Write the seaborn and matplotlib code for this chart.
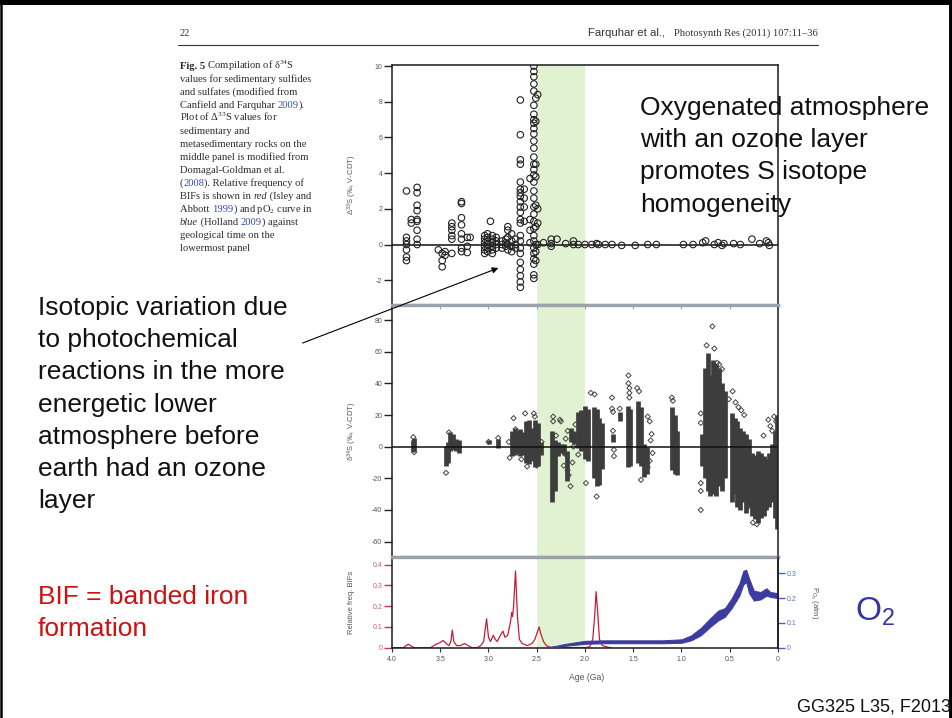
import numpy as np
import matplotlib
matplotlib.use("Agg")
import matplotlib.pyplot as plt
import seaborn as sns
from matplotlib.lines import Line2D
from matplotlib.patches import FancyArrowPatch
from matplotlib.font_manager import FontProperties

# ---------------- data ----------------
# Top panel: Delta33S (per mil) grouped by age (Ga)
d33_group_age = [3.85, 3.80, 3.74, 3.52, 3.48, 3.45, 3.38, 3.28, 3.22, 3.19,
                 3.04, 3.01, 2.98, 2.96, 2.92, 2.86, 2.82, 2.80, 2.76, 2.72,
                 2.67, 2.63, 2.57, 2.53, 2.51, 2.49,
                 2.43, 2.35, 2.29, 2.20, 2.12, 2.07, 2.00, 1.93, 1.88, 1.86,
                 1.79, 1.72, 1.62, 1.48, 1.35, 1.26, 0.98, 0.88, 0.78, 0.75,
                 0.66, 0.62, 0.58, 0.56, 0.46, 0.39, 0.27, 0.19, 0.12, 0.10, 0.09]
d33_group_vals = [
    [3.0, 0.4, 0.2, 0.0, -0.3, -0.7, -0.9],
    [1.4, 1.2],
    [3.2, 2.9, 2.2, 1.9, 1.4, 1.3, 0.8, 0.3, 0.0],
    [-0.3],
    [-0.5, -0.9, -1.25],
    [-0.4, -0.6],
    [1.2, 1.0, 0.8, 0.5, 0.3, -0.5],
    [2.4, 2.3, 1.5, 1.1, 0.6, 0.3, -0.2, -0.4],
    [0.4, -0.1, -0.45],
    [0.4],
    [0.5, 0.3, 0.1, -0.1, -0.3, -0.5],
    [0.6, 0.4, 0.2, 0.0, -0.2, -0.4],
    [1.3],
    [0.5, 0.3, 0.1, -0.1, -0.3, -0.5],
    [0.4, 0.2, 0.0, -0.2],
    [0.2, 0.0, -0.2],
    [0.3, 0.1, -0.1],
    [1.0, 0.8, 0.4, 0.0, -0.3],
    [0.6, 0.2, -0.1, -0.4],
    [0.3, 0.0, -0.2],
    [8.1, 6.15, 4.75, 4.5, 3.5, 3.1, 2.9, 2.7, 2.4, 2.1, 1.8, 1.4, 1.2, 0.5,
     0.2, -0.2, -0.5, -1.0, -1.4, -1.75, -2.1, -2.4],
    [3.1, 2.6, 2.1, 1.3],
    [3.7, 1.4, 0.8, 0.1],
    [10.0, 9.7, 9.4, 9.0, 8.6, 7.8, 7.3, 7.0, 6.8, 6.5, 6.2, 5.8, 5.4, 4.9,
     4.5, 4.2, 3.9, 3.5, 3.0, 2.6, 2.1, 1.7, 1.3, 0.9, 0.5, 0.2, -0.2, -0.5,
     -0.8, -1.1, -1.7, -1.9],
    [8.2, 6.9, 4.5, 3.8, 2.2, 1.0, 0.0, -0.4, -0.9],
    [8.4, 2.0, 1.2, 0.0],
    [0.1], [0.3, 0.05, -0.1], [0.3], [0.05], [0.2, 0.0], [0.0], [0.0], [0.0],
    [0.05], [0.0], [0.0], [0.0], [-0.05], [-0.05], [0.0], [0.0], [0.0], [0.0],
    [0.1], [0.2], [0.0], [0.1], [-0.05], [0.05], [0.05], [0.0], [0.3], [0.05],
    [0.2], [0.1], [-0.05],
]

# Middle panel: delta34S dense clusters (age, min, max) in per mil
d34_col_age = [3.78, 3.77, 3.44, 3.42, 3.40, 3.37, 3.34, 3.31, 2.99, 2.90,
               2.76, 2.73, 2.70, 2.67, 2.64, 2.61, 2.58, 2.55, 2.52, 2.49,
               2.46, 2.34, 2.31, 2.28, 2.25, 2.22, 2.19, 2.14, 2.11, 2.07,
               2.04, 2.00, 1.97, 1.91, 1.88, 1.85, 1.82, 1.71, 1.64, 1.55,
               1.53, 1.45, 1.42, 1.39, 1.36, 1.10, 1.07, 1.05, 0.79, 0.76,
               0.73, 0.70, 0.67, 0.64, 0.61, 0.58, 0.55, 0.48, 0.45, 0.42,
               0.39, 0.36, 0.33, 0.30, 0.27, 0.24, 0.21, 0.18, 0.15, 0.12,
               0.09, 0.06, 0.03, 0.01]
d34_col_lo = [-3.5, -2.5, -12.5, -10, -3, -2, -3, -4, 2, -1,
              -6, -5, -4, -6, -5, -10, -11, -9, -13, -12,
              -5, -35, -28, -6, -4, -5, -22, 3, 2, -1,
              -3, -8, -9, -20, -25, -24, -14, 3, 16, -13,
              -12, -10, -12, -19, -17, -15, -17, -18, -12, -20,
              -28, -31, -30, -31, -25, -28, -20, -35, -30, -38,
              -40, -35, -42, -38, -44, -46, -48, -45, -44, -40,
              -38, -35, -45, -52]
d34_col_hi = [4, 5.5, 0.5, 3, 9, 8, 5, 4, 4, 5,
              10, 12, 10, 11, 9, 16, 17, 12, 17, 15,
              3, 10, 4, 3, 2, 2, -3, 12, 10, 22,
              23, 26, 24, 25, 24, 18, 15, 8, 22, 26,
              24, 29, 25, 2, 0, 25, 20, 10, 8, 50,
              59, 45, 55, 52, 50, 40, 35, 21, 18, 16,
              12, 10, 8, 5, -4, -5, -3, -4, -6, -8,
              -4, 2, 10, 20]

# Middle panel: scattered individual delta34S values
d34_pt_group_age = [3.78, 3.77, 3.44, 3.41, 3.00, 2.90, 2.79, 2.78, 2.74, 2.72,
                    2.66, 2.62, 2.60, 2.53, 2.52, 2.50, 2.45, 2.33, 2.30, 2.26,
                    2.25, 2.22, 2.20, 2.18, 2.17, 2.15, 2.13, 2.12, 2.10, 2.07,
                    2.05, 1.99, 1.94, 1.90, 1.88, 1.72, 1.71, 1.70, 1.64, 1.55,
                    1.54, 1.46, 1.44, 1.42, 1.35, 1.33, 1.31, 1.32, 1.30, 1.10,
                    1.09, 0.80, 0.74, 0.68, 0.66, 0.63, 0.61, 0.58, 0.51, 0.47,
                    0.44, 0.41, 0.38, 0.35, 0.31, 0.26, 0.22, 0.15, 0.10, 0.08,
                    0.06, 0.04, 0.02]
d34_pt_group_vals = [[6], [-3.5], [-16.5], [9], [3], [5.5], [3], [-7], [18], [11],
                     [-8], [21], [-12.5], [21], [19], [-12], [3], [19, 16], [7], [17],
                     [16], [-12], [-5, 5], [-15, 10], [-18], [-25], [-10], [0], [14], [-5],
                     [20], [-23], [34], [33], [-31.5], [31, 24], [22, 10], [-2, -6], [24], [45, 40],
                     [37, 34, 31], [37], [35], [-21], [19, -13], [16, -9], [8], [4], [-4], [31],
                     [29], [21, 15, -23, -28, -40], [64], [76], [62], [53], [52], [49], [30], [35],
                     [28], [25], [23], [20], [-38], [-48], [-49], [7], [17], [13],
                     [10], [19], [16]]

# Bottom panel: relative frequency of BIFs
bif_age = [4.00, 3.88, 3.85, 3.83, 3.80, 3.77, 3.60, 3.55, 3.50, 3.47, 3.44,
           3.41, 3.39, 3.375, 3.36, 3.33, 3.29, 3.25, 3.21, 3.17, 3.12, 3.08,
           3.05, 3.02, 3.00, 2.98, 2.95, 2.93, 2.91, 2.87, 2.85, 2.83, 2.80,
           2.77, 2.76, 2.75, 2.74, 2.72, 2.70, 2.68, 2.65, 2.60, 2.55, 2.52,
           2.49, 2.475, 2.46, 2.43, 2.40, 2.35, 2.00, 1.95, 1.92, 1.90, 1.885,
           1.87, 1.85, 1.82, 1.78, 1.74, 1.70]
bif_freq = [0.0, 0.0, 0.012, 0.016, 0.008, 0.0, 0.0, 0.015, 0.025, 0.035, 0.02,
            0.01, 0.03, 0.085, 0.03, 0.01, 0.01, 0.02, 0.01, 0.0, 0.0, 0.01,
            0.03, 0.14, 0.05, 0.03, 0.06, 0.04, 0.03, 0.065, 0.08, 0.05, 0.06,
            0.13, 0.17, 0.15, 0.2, 0.37, 0.15, 0.04, 0.02, 0.01, 0.02, 0.04,
            0.08, 0.10, 0.07, 0.03, 0.01, 0.0, 0.0, 0.005, 0.04, 0.15, 0.27,
            0.18, 0.04, 0.01, 0.005, 0.0, -0.005]

# Bottom panel: pO2 (atm) envelope
po2_age = [2.40, 2.30, 2.20, 2.10, 2.00, 1.80, 1.50, 1.20, 1.00, 0.90, 0.80,
           0.70, 0.62, 0.55, 0.48, 0.40, 0.36, 0.33, 0.30, 0.25, 0.18, 0.12,
           0.08, 0.00]
po2_lo = [0.000, 0.002, 0.008, 0.012, 0.016, 0.018, 0.018, 0.018, 0.020, 0.030,
          0.050, 0.085, 0.110, 0.125, 0.160, 0.210, 0.255, 0.265, 0.220, 0.190,
          0.195, 0.210, 0.205, 0.200]
po2_hi = [0.002, 0.008, 0.016, 0.022, 0.028, 0.030, 0.030, 0.030, 0.034, 0.050,
          0.080, 0.120, 0.150, 0.160, 0.200, 0.260, 0.310, 0.315, 0.280, 0.230,
          0.225, 0.240, 0.225, 0.220]

age_ticks = [4.0, 3.5, 3.0, 2.5, 2.0, 1.5, 1.0, 0.5, 0.0]
age_labels = ["4.0", "3.5", "3.0", "2.5", "2.0", "1.5", "1.0", "0.5", "0"]
d33_ticks = [-2, 0, 2, 4, 6, 8, 10]
d34_ticks = [-60, -40, -20, 0, 20, 40, 60, 80]
bif_ticks = [0, 0.1, 0.2, 0.3, 0.4]
bif_labels = ["0", "0.1", "0.2", "0.3", "0.4"]
po2_ticks = [0, 0.1, 0.2, 0.3]
po2_labels = ["0", "0.1", "0.2", "0.3"]

caption_lines = [
    [("Fig. 5", {"weight": "bold"}), (" Compilation of δ$^{34}$S", {})],
    [("values for sedimentary sulfides", {})],
    [("and sulfates (modified from", {})],
    [("Canfield and Farquhar ", {}), ("2009", {"color": "#2f4fb5"}), (").", {})],
    [("Plot of Δ$^{33}$S values for", {})],
    [("sedimentary and", {})],
    [("metasedimentary rocks on the", {})],
    [("middle panel is modified from", {})],
    [("Domagal-Goldman et al.", {})],
    [("(", {}), ("2008", {"color": "#2f4fb5"}), ("). Relative frequency of", {})],
    [("BIFs is shown in ", {}), ("red", {"style": "italic"}), (" (Isley and", {})],
    [("Abbott ", {}), ("1999", {"color": "#2f4fb5"}), (") and pO$_2$ curve in", {})],
    [("blue", {"style": "italic"}), (" (Holland ", {}), ("2009", {"color": "#2f4fb5"}), (") against", {})],
    [("geological time on the", {})],
    [("lowermost panel", {})],
]
right_note = ["Oxygenated atmosphere", "with an ozone layer",
              "promotes S isotope", "homogeneity"]
left_note = ["Isotopic variation due", "to photochemical", "reactions in the more",
             "energetic lower", "atmosphere before", "earth had an ozone", "layer"]
bif_note = ["BIF = banded iron", "formation"]

# ---------------- figure ----------------
sns.set_style("white")
plt.rcParams['font.family'] = ['Liberation Sans', 'DejaVu Sans']
plt.rcParams['mathtext.default'] = 'regular'

W, H = 953, 718
fig = plt.figure(figsize=(W / 100, H / 100), dpi=100)
fig.patch.set_facecolor("white")


def fx(x):
    return x / W


def fy(y):
    return 1 - y / H


L, R = 392, 778


def rect(top, bottom):
    return [L / W, 1 - bottom / H, (R - L) / W, (bottom - top) / H]


ax1 = fig.add_axes(rect(65, 305))
ax2 = fig.add_axes(rect(305, 557))
ax3 = fig.add_axes(rect(557, 648))
ax4 = ax3.twinx()

GREEN = "#e1f2d2"
GRAY = "#9ca2ab"
TICKLAB = "#555555"

for ax in (ax1, ax2, ax3):
    ax.set_xlim(4.0, 0.0)
    ax.axvspan(2.5, 2.0, color=GREEN, lw=0, zorder=0)
    for s in ax.spines.values():
        s.set_color("#1a1a1a")
        s.set_linewidth(1.1)
        s.set_zorder(6)

ax1.spines['bottom'].set_color(GRAY)
ax1.spines['bottom'].set_linewidth(2.4)
for side in ('top', 'bottom'):
    ax2.spines[side].set_color(GRAY)
    ax2.spines[side].set_linewidth(2.4)
ax3.spines['top'].set_color(GRAY)
ax3.spines['top'].set_linewidth(2.4)
for side in ('top', 'bottom', 'left'):
    ax4.spines[side].set_visible(False)
ax4.spines['right'].set_color("#1a1a1a")
ax4.spines['right'].set_linewidth(1.1)

# ---- top panel ----
d33_age = np.repeat(d33_group_age, [len(v) for v in d33_group_vals])
d33_val = np.concatenate([np.asarray(v, dtype=float) for v in d33_group_vals])
ax1.axhline(0, color="#111111", lw=1.1, zorder=3)
sns.scatterplot(x=d33_age, y=d33_val, ax=ax1, marker='o', s=22,
                facecolor='none', edgecolor='#222222', linewidth=0.8,
                zorder=4, legend=False)
ax1.set_ylim(-3.39, 10.06)
ax1.set_yticks(d33_ticks)
ax1.set_yticklabels([str(t) for t in d33_ticks])
ax1.set_xticks([])

# ---- middle panel ----
d34_pt_age = np.repeat(d34_pt_group_age, [len(v) for v in d34_pt_group_vals])
d34_pt_val = np.concatenate([np.asarray(v, dtype=float) for v in d34_pt_group_vals])
ax2.vlines(d34_col_age, d34_col_lo, d34_col_hi, color="#3d3d3d", lw=3.4, zorder=2)
sns.scatterplot(x=d34_pt_age, y=d34_pt_val, ax=ax2, marker='D', s=7,
                facecolor='none', edgecolor='#444444', linewidth=0.7,
                zorder=3, legend=False)
ax2.axhline(0, color="#111111", lw=1.1, zorder=4)
ax2.set_ylim(-69.7, 89.5)
ax2.set_yticks(d34_ticks)
ax2.set_yticklabels([str(t) for t in d34_ticks])
ax2.set_xticks(age_ticks[1:-1])
ax2.tick_params(axis='x', bottom=False, top=True, direction='in', length=3,
                width=0.8, color=GRAY, labelbottom=False, labeltop=False)

# ---- bottom panel ----
sns.lineplot(x=bif_age, y=bif_freq, ax=ax3, color="#c41e3a", lw=0.9,
             sort=False, estimator=None, zorder=3)
ax3.set_ylim(-0.0015, 0.437)
ax3.set_yticks(bif_ticks)
ax3.set_yticklabels(bif_labels)
ax3.set_xticks(age_ticks)
ax3.set_xticklabels(age_labels)
ax3.tick_params(axis='x', bottom=True, top=False, direction='out', length=3,
                width=0.8, color="#333333", labelsize=5.0, labelcolor=TICKLAB, pad=3)
ax3.set_xticks(age_ticks[1:-1], minor=True)
ax3.tick_params(axis='x', which='minor', top=True, bottom=False, direction='in',
                length=3, width=0.8, color=GRAY)
ax3.set_xlabel("Age (Ga)", fontsize=6.2, color=TICKLAB)
ax3.xaxis.set_label_coords(0.505, -0.27)

ax4.fill_between(po2_age, po2_lo, po2_hi, color="#3c3c9f", edgecolor="#3c3c9f",
                 lw=0.7, zorder=2)
ax4.set_ylim(-0.001, 0.366)
ax4.set_yticks(po2_ticks)
ax4.set_yticklabels(po2_labels)
ax4.tick_params(axis='y', right=True, direction='out', length=5, width=1.0,
                color="#4a63b8", labelcolor="#5a72bd", labelsize=5.0, pad=1.5)
ax4.set_ylabel("P$_{O_2}$ (atm)", rotation=270, fontsize=5.5, color=TICKLAB,
               va='center')
ax4.yaxis.set_label_coords(1.093, 0.5)
ax4.set_xlim(4.0, 0.0)

# y tick styling
for ax in (ax1, ax2):
    ax.tick_params(axis='y', left=True, direction='out', length=5.5, width=1.0,
                   color="#222222", labelcolor=TICKLAB, labelsize=5.0, pad=1.5)
ax3.tick_params(axis='y', left=True, direction='out', length=5.5, width=1.0,
                color="#c8325a", labelcolor="#cc5a7c", labelsize=5.0, pad=1.5)

ax1.set_ylabel("Δ$^{33}$S (‰, V-CDT)", fontsize=5.5, color=TICKLAB, va='center')
ax2.set_ylabel("δ$^{34}$S (‰, V-CDT)", fontsize=5.5, color=TICKLAB, va='center')
ax3.set_ylabel("Relative freq. BIFs", fontsize=5.5, color=TICKLAB, va='center')
for ax in (ax1, ax2, ax3):
    ax.yaxis.set_label_coords(-0.104, 0.5)

# ---------------- page decorations ----------------
fig.add_artist(Line2D([0, 1], [fy(2), fy(2)], transform=fig.transFigure,
                      color='black', lw=3.6))
fig.add_artist(Line2D([fx(1.2), fx(1.2)], [0, 1], transform=fig.transFigure,
                      color='black', lw=1.8))
fig.add_artist(Line2D([fx(951), fx(951)], [0, 1], transform=fig.transFigure,
                      color='black', lw=2.8))

# header
fig.text(fx(180), fy(36), "22", family="Liberation Serif", fontsize=7.5,
         color="#333333", va='baseline')
fig.text(fx(818), fy(36), "Photosynth Res (2011) 107:11–36",
         family="Liberation Serif", fontsize=7.6, color="#333333",
         va='baseline', ha='right')
fig.text(fx(665), fy(36), "Farquhar et al.,", fontsize=8.2, color="#333333",
         va='baseline', ha='right')
fig.add_artist(Line2D([fx(178), fx(818)], [fy(45), fy(45)],
                      transform=fig.transFigure, color='#333333', lw=0.8))

# caption (rich text)
renderer = fig.canvas.get_renderer()


def rich_line(x_px, y_px, segs, size, family, base_color):
    x = x_px
    for s, st in segs:
        fp = FontProperties(family=family, size=size,
                            weight=st.get('weight', 'normal'),
                            style=st.get('style', 'normal'))
        fig.text(fx(x), fy(y_px), s, fontproperties=fp,
                 color=st.get('color', base_color), va='baseline', ha='left')
        ism = s.count('$') >= 2
        wp, _, _ = renderer.get_text_width_height_descent('|' + s + '|', fp, ismath=ism)
        wb, _, _ = renderer.get_text_width_height_descent('||', fp, ismath=False)
        x += wp - wb


for i, segs in enumerate(caption_lines):
    rich_line(180, 69 + 13.0 * i, segs, 7.6, "Liberation Serif", "#2c2c2c")

# annotations
for i, line in enumerate(right_note):
    fig.text(fx(640), fy(115 + 32.2 * i), line, fontsize=19, color="#111111",
             va='baseline')
for i, line in enumerate(left_note):
    fig.text(fx(38), fy(315 + 32.2 * i), line, fontsize=19, color="#111111",
             va='baseline')
for i, line in enumerate(bif_note):
    fig.text(fx(38), fy(604 + 32.2 * i), line, fontsize=19, color="#cc1111",
             va='baseline')
fig.text(fx(855), fy(621), "O$_2$", fontsize=24, color="#3333aa", va='baseline')
fig.text(fx(797), fy(712), "GG325 L35, F2013", fontsize=13, color="#111111",
         va='baseline')

fig.add_artist(FancyArrowPatch((fx(300), fy(344)), (fx(501), fy(267)),
                               transform=fig.transFigure, arrowstyle='-|>',
                               mutation_scale=9, lw=0.8, color='black'))

fig.savefig("out.png", dpi=100)
